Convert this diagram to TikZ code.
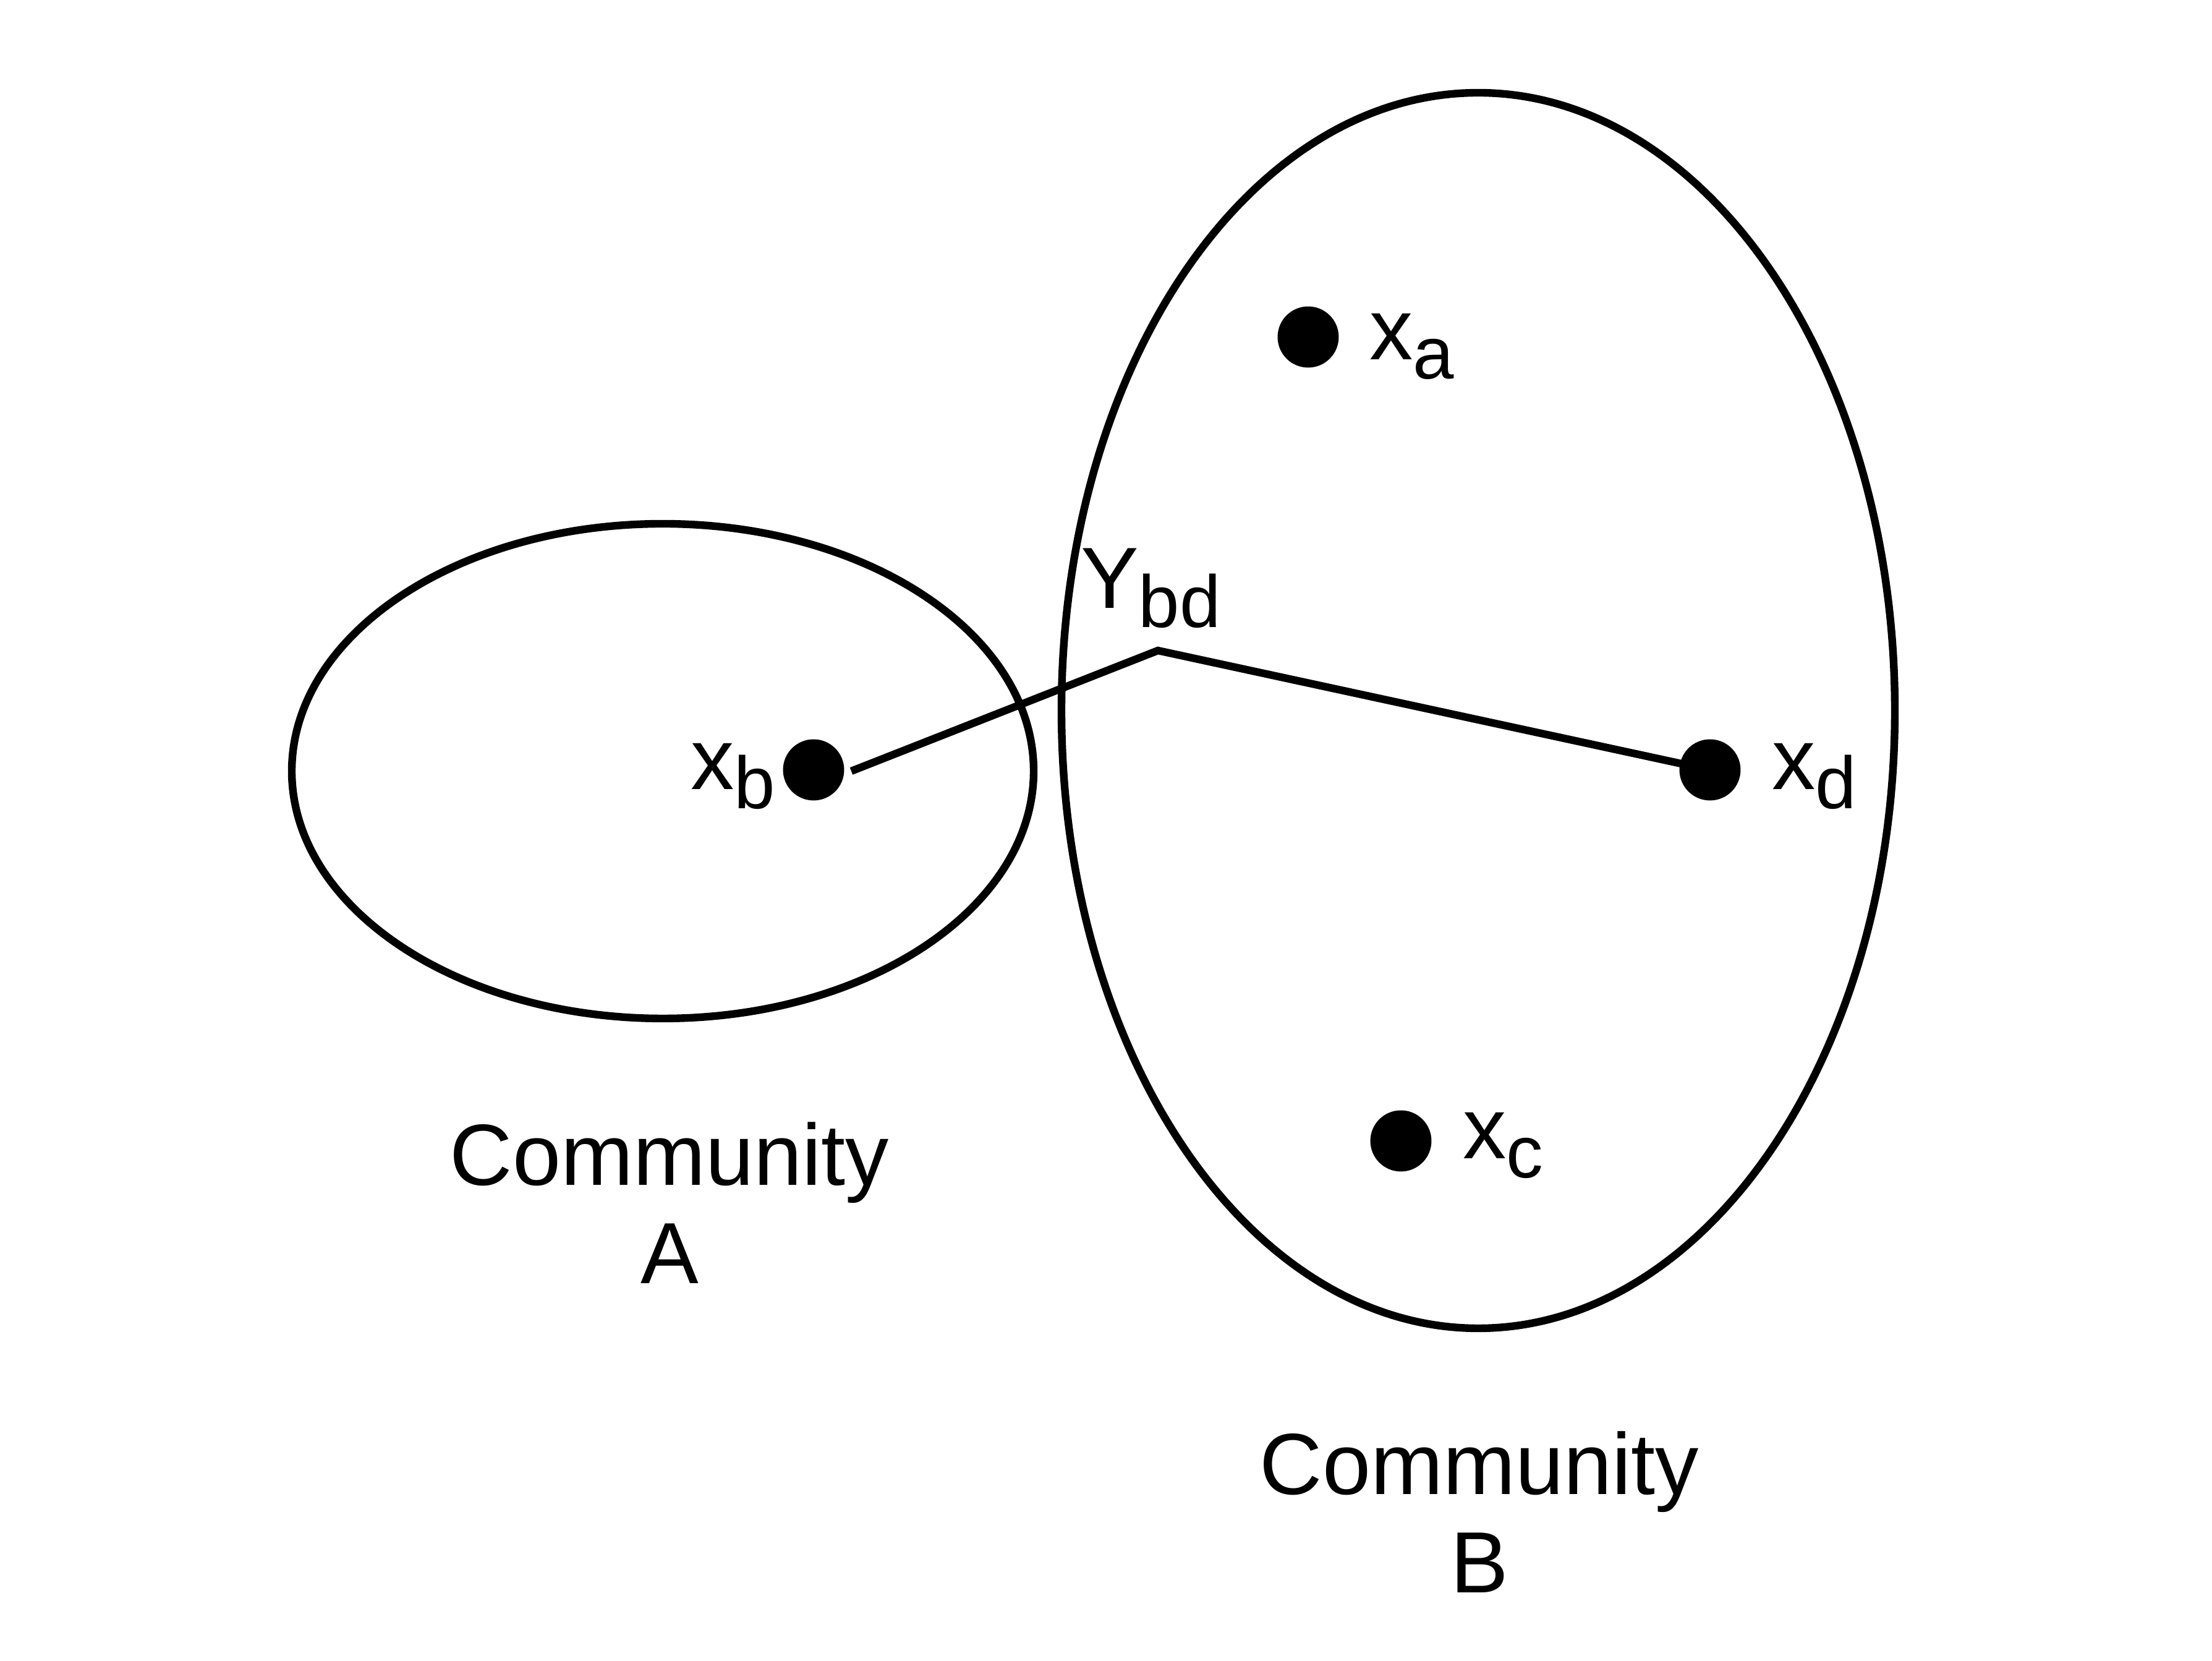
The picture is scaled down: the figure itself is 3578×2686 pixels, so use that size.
\documentclass[tikz,border=0pt]{standalone}
\usepackage{fontspec}
\setmainfont{Liberation Sans}
\newcommand{\lblsize}{\fontsize{20}{24}\selectfont}
\newcommand{\subsize}{\fontsize{17}{20}\selectfont}
\newcommand{\sbs}[1]{\raisebox{-0.155cm}{\subsize #1}}
\tikzset{
  comm/.style={draw=black, line width=0.062cm},
  conn/.style={draw=black, line width=0.062cm},
  dot/.style={circle, fill=black, draw=none, inner sep=0pt, minimum size=0.495cm},
  lbl/.style={inner sep=0pt, outer sep=0pt, font=\lblsize, anchor=base west},
  ctext/.style={inner sep=0pt, outer sep=0pt, align=center, font=\fontsize{20}{22.76}\selectfont, anchor=base}
}
\begin{document}
\begin{tikzpicture}[x=0.005cm, y=-0.005cm]
\useasboundingbox (0,0) rectangle (3578,2686);
% communities
\draw[comm] (1072,1247) ellipse [x radius=600, y radius=400];
\draw[comm] (2391,1149) ellipse [x radius=674, y radius=999];
% points
\node[dot] (xa) at (2116,545) {};
\node[dot] (xb) at (1316,1245) {};
\node[dot] (xc) at (2266,1845) {};
\node[dot] (xd) at (2766,1245) {};
% connector
\coordinate (ybstart) at (1377,1247);
\coordinate (ybd) at (1873,1052);
\draw[conn] (ybstart) -- (ybd) -- (xd.center);
% labels
\node[lbl] (lxa) at (2215,582) {x\sbs{a}};
\node[lbl] (lxb) at (1117,1277) {x\sbs{b}};
\node[lbl] (lxc) at (2366,1874) {x\sbs{c}};
\node[lbl] (lxd) at (2866,1277) {x\sbs{d}};
\node[lbl] (lybd) at (1748,984) {Y\sbs{bd}};
\node[ctext] (ca) at (1083,2076) {Community\\A};
\node[ctext] (cb) at (2393,2576) {Community\\B};
\end{tikzpicture}
\end{document}
